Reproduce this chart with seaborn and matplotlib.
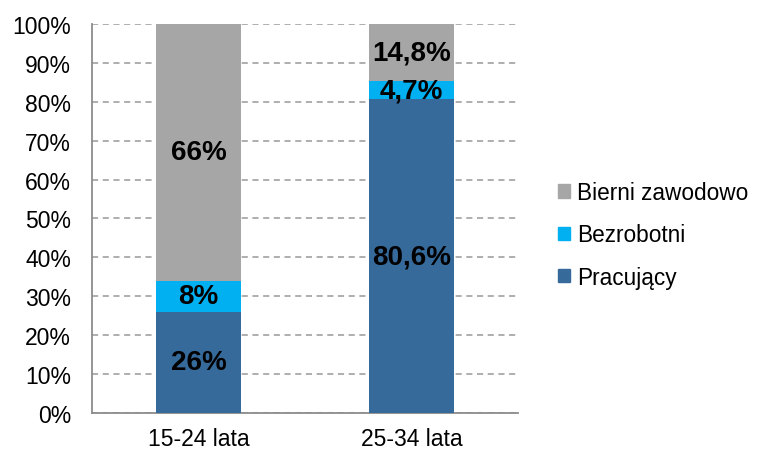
import matplotlib
matplotlib.use("Agg")
import matplotlib.pyplot as plt
import seaborn as sns
from matplotlib.patches import Patch

# data
groups = ["15-24 lata", "25-34 lata"]
pracujacy = [26, 80.6]
bezrobotni = [8, 4.7]
bierni = [66, 14.8]
lab_prac = ["26%", "80,6%"]
lab_bezr = ["8%", "4,7%"]
lab_bier = ["66%", "14,8%"]
yticks = list(range(0, 101, 10))

c_prac = "#366A9B"
c_bezr = "#00B0F0"
c_bier = "#A6A6A6"

sns.set_style("white")
plt.rcParams['font.family'] = ['Liberation Sans', 'DejaVu Sans']
plt.rcParams['text.color'] = 'black'
plt.rcParams['xtick.color'] = 'black'
plt.rcParams['ytick.color'] = 'black'

fig = plt.figure(figsize=(7.59, 4.52), dpi=100)
ax = fig.add_axes([0.1212, 0.0841, 0.5613, 0.8606])

bot2 = pracujacy
bot3 = [a + b for a, b in zip(pracujacy, bezrobotni)]
top3 = [min(100 - b, v) for b, v in zip(bot3, bierni)]

sns.barplot(x=groups, y=pracujacy, color=c_prac, width=0.395, ax=ax,
            saturation=1, linewidth=0, zorder=3)
sns.barplot(x=groups, y=bezrobotni, bottom=bot2, color=c_bezr, width=0.395, ax=ax,
            saturation=1, linewidth=0, zorder=3)
sns.barplot(x=groups, y=top3, bottom=bot3, color=c_bier, width=0.395, ax=ax,
            saturation=1, linewidth=0, zorder=3)

for i in range(len(groups)):
    ax.text(i, pracujacy[i] / 2, lab_prac[i], ha="center", va="center",
            fontsize=20, fontweight="bold", zorder=5)
    ax.text(i, bot2[i] + bezrobotni[i] / 2, lab_bezr[i], ha="center", va="center",
            fontsize=20, fontweight="bold", zorder=5)
    ax.text(i, bot3[i] + top3[i] / 2, lab_bier[i], ha="center", va="center",
            fontsize=20, fontweight="bold", zorder=5)

ax.set_xlim(-0.5, 1.5)
ax.set_ylim(0, 100)
ax.set_yticks(yticks)
ax.set_yticklabels([f"{t}%" for t in yticks])
ax.yaxis.grid(True, linestyle=(0, (4, 3)), color="#999999", linewidth=1.1, zorder=0)
ax.set_axisbelow(True)
ax.tick_params(axis="both", labelsize=16.5, length=0)
ax.tick_params(axis="y", pad=15)
ax.tick_params(axis="x", pad=10)

for s in ["top", "right"]:
    ax.spines[s].set_visible(False)
for s in ["left", "bottom"]:
    ax.spines[s].set_color("#8c8c8c")
    ax.spines[s].set_linewidth(1.3)

handles = [Patch(color=c_bier, label="Bierni zawodowo"),
           Patch(color=c_bezr, label="Bezrobotni"),
           Patch(color=c_prac, label="Pracujący")]
fig.legend(handles=handles, loc="center left", bbox_to_anchor=(0.708, 0.478),
           frameon=False, fontsize=16.3, handlelength=0.55, handleheight=0.55,
           handletextpad=0.3, labelspacing=0.85)

fig.savefig("out.png", dpi=100)
